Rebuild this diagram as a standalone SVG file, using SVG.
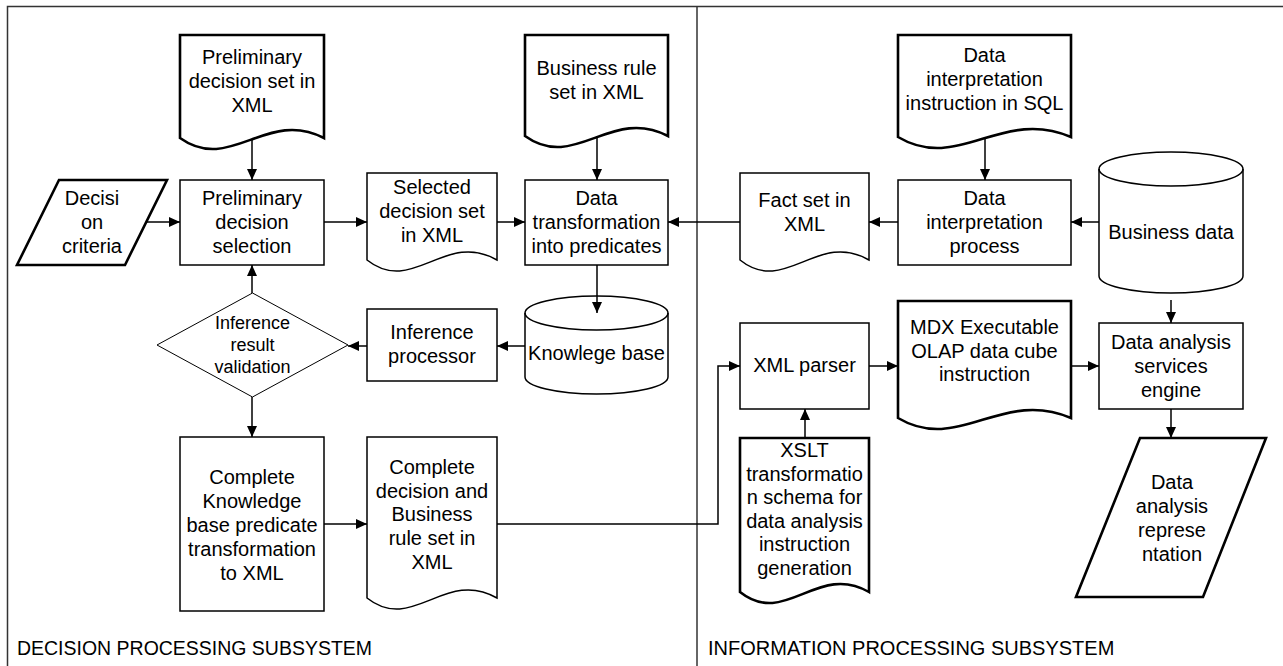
<svg xmlns="http://www.w3.org/2000/svg" width="1283" height="666" viewBox="0 0 1283 666">
  <style>
    text { font-family: "Liberation Sans", Arial, sans-serif; font-size: 20px; fill: #000; text-anchor: middle; }
    .small { font-size: 18px; }
    .label { text-anchor: start; }
    .box { fill: #fff; stroke: #000; stroke-width: 1.5; }
    .bold { fill: #fff; stroke: #000; stroke-width: 2.6; stroke-linejoin: miter; }
    .thin { fill: #fff; stroke: #000; stroke-width: 1; }
    .frame { fill: none; stroke: #333; stroke-width: 1.5; }
    .conn { fill: none; stroke: #000; stroke-width: 1.5; marker-end: url(#arrow); }
    .plain { fill: none; stroke: #000; stroke-width: 1.5; }
  </style>
  <defs>
    <marker id="arrow" markerUnits="userSpaceOnUse" markerWidth="12" markerHeight="10" refX="11" refY="5" orient="auto">
      <path d="M0,0 L11,5 L0,10 Z" fill="#000"/>
    </marker>
  </defs>

  <rect width="1283" height="666" fill="#fff"/>

  <!-- subsystem frame -->
  <g id="frame">
    <path class="frame" d="M7.5,666 V6.5 H1283"/>
    <path class="frame" d="M697,6.5 V666"/>
    <text class="label" x="17" y="655" textLength="355" lengthAdjust="spacingAndGlyphs">DECISION PROCESSING SUBSYSTEM</text>
    <text class="label" x="708" y="655">INFORMATION PROCESSING SUBSYSTEM</text>
  </g>

  <!-- decision processing subsystem -->
  <g id="prelim-set-doc">
    <path class="bold" d="M180,35 H324 V138 C266.4,108 230.4,174 180,138 Z"/>
    <text x="252" y="64">Preliminary</text>
    <text x="252" y="88">decision set in</text>
    <text x="252" y="112">XML</text>
  </g>

  <g id="decision-criteria">
    <path class="bold" d="M59,180 H167 L125,265 H17 Z"/>
    <text x="92" y="205">Decisi</text>
    <text x="92" y="229">on</text>
    <text x="92" y="253">criteria</text>
  </g>

  <g id="prelim-selection">
    <rect class="box" x="180" y="180" width="144" height="85"/>
    <text x="252" y="205">Preliminary</text>
    <text x="252" y="229">decision</text>
    <text x="252" y="253">selection</text>
  </g>

  <g id="selected-set-doc">
    <path class="box" d="M367,173 H497 V260 C445,230 412.5,296 367,260 Z"/>
    <text x="432" y="194">Selected</text>
    <text x="432" y="218">decision set</text>
    <text x="432" y="242">in XML</text>
  </g>

  <g id="business-rule-doc">
    <path class="bold" d="M525,35 H668 V136 C610.8,106 575,172 525,136 Z"/>
    <text x="596.5" y="75">Business rule</text>
    <text x="596.5" y="99">set in XML</text>
  </g>

  <g id="data-transformation">
    <rect class="box" x="525" y="180" width="143" height="85"/>
    <text x="596.5" y="205">Data</text>
    <text x="596.5" y="229">transformation</text>
    <text x="596.5" y="253">into predicates</text>
  </g>

  <g id="knowledge-base">
    <path class="box" d="M525,313 A71.5,17 0 0 1 668,313 V377 A71.5,17 0 0 1 525,377 Z"/>
    <path class="plain" d="M525,313 A71.5,17 0 0 0 668,313"/>
    <text x="596.5" y="360">Knowlege base</text>
  </g>

  <g id="inference-processor">
    <rect class="box" x="367" y="309" width="130" height="72"/>
    <text x="432" y="339">Inference</text>
    <text x="432" y="363">processor</text>
  </g>

  <g id="inference-validation">
    <path class="thin" d="M252.5,293 L348,345 L252.5,397 L157,345 Z"/>
    <text class="small" x="252.5" y="329">Inference</text>
    <text class="small" x="252.5" y="351">result</text>
    <text class="small" x="252.5" y="373">validation</text>
  </g>

  <g id="kb-to-xml">
    <rect class="box" x="180" y="437" width="144" height="174"/>
    <text x="252" y="484">Complete</text>
    <text x="252" y="508">Knowledge</text>
    <text x="252" y="532">base predicate</text>
    <text x="252" y="556">transformation</text>
    <text x="252" y="580">to XML</text>
  </g>

  <g id="complete-set-doc">
    <path class="box" d="M367,437 H497 V598 C445,568 412.5,634 367,598 Z"/>
    <text x="432" y="474">Complete</text>
    <text x="432" y="497.5">decision and</text>
    <text x="432" y="521">Business</text>
    <text x="432" y="545">rule set in</text>
    <text x="432" y="569">XML</text>
  </g>

  <!-- information processing subsystem -->
  <g id="sql-instruction-doc">
    <path class="bold" d="M898,35 H1071 V137 C1001.8,107 958.6,173 898,137 Z"/>
    <text x="984.5" y="62">Data</text>
    <text x="984.5" y="86">interpretation</text>
    <text x="984.5" y="110">instruction in SQL</text>
  </g>

  <g id="fact-set-doc">
    <path class="box" d="M740,173 H869 V260 C817.4,230 785.2,296 740,260 Z"/>
    <text x="804.5" y="207">Fact set in</text>
    <text x="804.5" y="231">XML</text>
  </g>

  <g id="data-interpretation">
    <rect class="box" x="898" y="180" width="173" height="85"/>
    <text x="984.5" y="205">Data</text>
    <text x="984.5" y="229">interpretation</text>
    <text x="984.5" y="253">process</text>
  </g>

  <g id="business-data">
    <path class="box" d="M1099,169 A72,17 0 0 1 1243,169 V276 A72,17 0 0 1 1099,276 Z"/>
    <path class="plain" d="M1099,169 A72,17 0 0 0 1243,169"/>
    <text x="1171" y="239">Business data</text>
  </g>

  <g id="xml-parser">
    <rect class="box" x="740" y="323" width="129" height="86"/>
    <text x="804.5" y="372">XML parser</text>
  </g>

  <g id="mdx-doc">
    <path class="bold" d="M898,301 H1071 V418 C1001.8,388 958.6,454 898,418 Z"/>
    <text x="984.5" y="334">MDX Executable</text>
    <text x="984.5" y="358">OLAP data cube</text>
    <text x="984.5" y="381">instruction</text>
  </g>

  <g id="analysis-engine">
    <rect class="box" x="1099" y="323" width="144" height="86"/>
    <text x="1171" y="349">Data analysis</text>
    <text x="1171" y="373">services</text>
    <text x="1171" y="397">engine</text>
  </g>

  <g id="xslt-doc">
    <path class="bold" d="M740,438 H869 V592 C817.4,562 785.2,628 740,592 Z"/>
    <text x="804.5" y="457">XSLT</text>
    <text x="804.5" y="480.6">transformatio</text>
    <text x="804.5" y="504.2">n schema for</text>
    <text x="804.5" y="527.8">data analysis</text>
    <text x="804.5" y="551.4">instruction</text>
    <text x="804.5" y="575">generation</text>
  </g>

  <g id="analysis-representation">
    <path class="bold" d="M1140,438 H1266 L1203,597 H1076 Z"/>
    <text x="1172" y="489">Data</text>
    <text x="1172" y="513">analysis</text>
    <text x="1172" y="537">represe</text>
    <text x="1172" y="561">ntation</text>
  </g>

  <!-- connectors, drawn over the shapes so arrowheads stay visible -->
  <g id="connectors">
    <path class="conn" d="M252,140 V180"/>
    <path class="conn" d="M146,222 H180"/>
    <path class="conn" d="M324,222 H367"/>
    <path class="conn" d="M497,222 H525"/>
    <path class="conn" d="M597,138 V180"/>
    <path class="conn" d="M740,222 H668"/>
    <path class="conn" d="M898,222 H869"/>
    <path class="conn" d="M985,139 V180"/>
    <path class="conn" d="M1099,222 H1071"/>
    <path class="conn" d="M597,265 V313"/>
    <path class="conn" d="M525,346 H497"/>
    <path class="conn" d="M367,346 H348"/>
    <path class="conn" d="M252,293 V265"/>
    <path class="conn" d="M252,397 V437"/>
    <path class="conn" d="M324,524 H367"/>
    <path class="conn" d="M497,524 H718 V366 H740"/>
    <path class="conn" d="M805,438 V409"/>
    <path class="conn" d="M869,366 H898"/>
    <path class="conn" d="M1071,366 H1099"/>
    <path class="conn" d="M1171,300 V323"/>
    <path class="conn" d="M1171,409 V438"/>
  </g>
</svg>
